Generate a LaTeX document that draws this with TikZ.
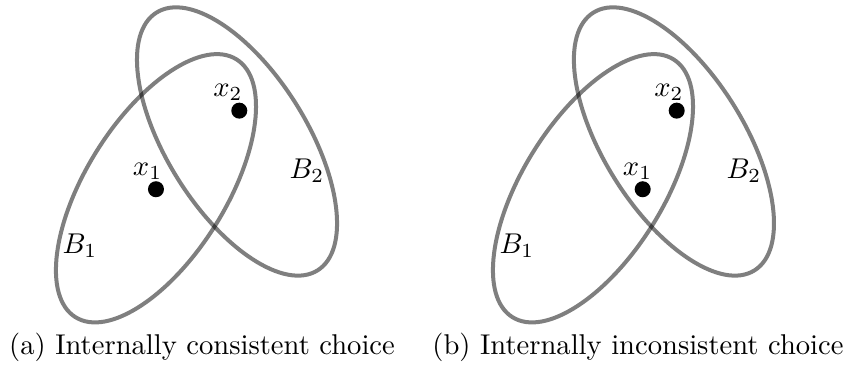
\documentclass[tikz,border=0pt]{standalone}
\usepackage{tikz}
\usetikzlibrary{positioning}

\begin{document}
\begin{tikzpicture}[
    set/.style={draw=black,draw opacity=.5,line width=1.4pt},
    pt/.style={circle,fill=black,inner sep=0pt,minimum size=5.6pt},
    lbl/.style={inner sep=0pt}]
  \useasboundingbox (0,0) rectangle (10.459,4.535);
  % (a) internally consistent
  \draw[set] (1.917,2.221) circle [x radius=1.868, y radius=.86, rotate=58];
  \draw[set] (2.913,2.796) circle [x radius=1.868, y radius=.86, rotate=122];
  \node[pt] (ax1) at (1.917,2.209) {};
  \node[pt] (ax2) at (2.941,3.175) {};
  \node[lbl] (lax1) at (1.813,2.433) {$x_1$};
  \node[lbl] (lax2) at (2.802,3.404) {$x_2$};
  \node[lbl] (laB1) at (0.983,1.512) {$B_1$};
  \node[lbl] (laB2) at (3.773,2.433) {$B_2$};
  \node[anchor=base,inner sep=0pt] (capa) at (2.483,0.172) {(a) Internally consistent choice};
  % (b) internally inconsistent
  \draw[set] (7.288,2.221) circle [x radius=1.868, y radius=.86, rotate=58];
  \draw[set] (8.283,2.796) circle [x radius=1.868, y radius=.86, rotate=122];
  \node[pt] (bx1) at (7.899,2.209) {};
  \node[pt] (bx2) at (8.317,3.175) {};
  \node[lbl] (lbx1) at (7.835,2.433) {$x_1$};
  \node[lbl] (lbx2) at (8.222,3.404) {$x_2$};
  \node[lbl] (lbB1) at (6.354,1.512) {$B_1$};
  \node[lbl] (lbB2) at (9.144,2.433) {$B_2$};
  \node[anchor=base,inner sep=0pt] (capb) at (7.841,0.172) {(b) Internally inconsistent choice};
\end{tikzpicture}
\end{document}
